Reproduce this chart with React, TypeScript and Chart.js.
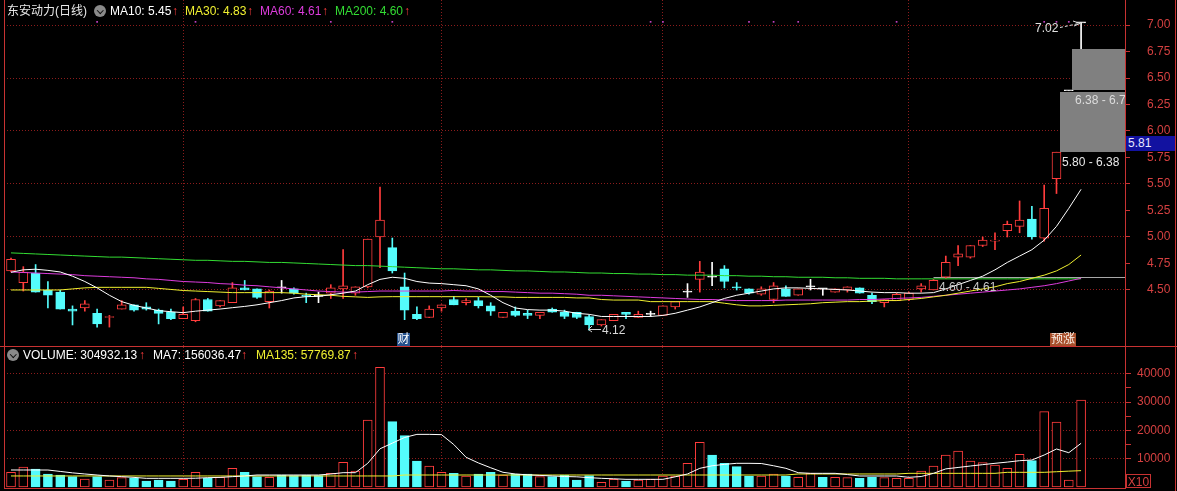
import React, { useEffect, useRef } from 'react';
import { Chart, registerables } from 'chart.js';
Chart.register(...registerables);

// ---------- DATA ----------
const opens = [
  4.68, 4.57, 4.66, 4.50, 4.48, 4.32, 4.33, 4.28, 4.24, 4.32,
  4.36, 4.34, 4.31, 4.29, 4.23, 4.21, 4.41, 4.35, 4.38, 4.52,
  4.51, 4.39, 4.52, 4.51, 4.45, 4.44, 4.47, 4.51, 4.47, 4.53,
  5.00, 4.90, 4.53, 4.27, 4.24, 4.33, 4.41, 4.38, 4.40, 4.35,
  4.24, 4.30, 4.28, 4.26, 4.32, 4.29, 4.29, 4.25, 4.17, 4.21,
  4.29, 4.24, 4.27, 4.26, 4.34, 4.48, 4.60, 4.62, 4.70, 4.53,
  4.51, 4.46, 4.41, 4.51, 4.45, 4.53, 4.51, 4.48, 4.50, 4.52,
  4.45, 4.38, 4.40, 4.41, 4.51, 4.50, 4.62, 4.81, 4.81, 4.92,
  4.96, 5.06, 5.10, 5.17, 4.99, 5.55, 6.38, 7.02,
];
const highs = [
  4.80, 4.72, 4.74, 4.58, 4.50, 4.35, 4.40, 4.32, 4.26, 4.40,
  4.36, 4.38, 4.32, 4.32, 4.34, 4.42, 4.42, 4.40, 4.57, 4.59,
  4.51, 4.50, 4.59, 4.52, 4.47, 4.48, 4.55, 4.88, 4.53, 4.98,
  5.47, 4.99, 4.66, 4.34, 4.35, 4.36, 4.44, 4.42, 4.43, 4.38,
  4.29, 4.34, 4.31, 4.29, 4.33, 4.31, 4.29, 4.26, 4.22, 4.27,
  4.29, 4.30, 4.30, 4.35, 4.39, 4.56, 4.77, 4.76, 4.73, 4.57,
  4.51, 4.53, 4.57, 4.54, 4.51, 4.60, 4.51, 4.51, 4.53, 4.52,
  4.47, 4.41, 4.47, 4.48, 4.56, 4.60, 4.82, 4.92, 4.92, 5.00,
  5.04, 5.15, 5.34, 5.29, 5.49, 5.80, 6.38, 7.02,
];
const lows = [
  4.67, 4.49, 4.48, 4.33, 4.32, 4.17, 4.30, 4.15, 4.15, 4.32,
  4.30, 4.31, 4.18, 4.22, 4.23, 4.20, 4.30, 4.34, 4.38, 4.50,
  4.42, 4.33, 4.47, 4.46, 4.38, 4.38, 4.42, 4.42, 4.45, 4.52,
  4.71, 4.66, 4.22, 4.22, 4.24, 4.30, 4.36, 4.36, 4.33, 4.26,
  4.24, 4.25, 4.23, 4.23, 4.29, 4.23, 4.23, 4.12, 4.16, 4.21,
  4.23, 4.24, 4.25, 4.26, 4.32, 4.43, 4.48, 4.54, 4.52, 4.50,
  4.46, 4.45, 4.38, 4.44, 4.45, 4.50, 4.45, 4.48, 4.48, 4.47,
  4.37, 4.34, 4.40, 4.40, 4.48, 4.50, 4.61, 4.73, 4.80, 4.91,
  4.88, 5.00, 5.04, 4.98, 4.96, 5.41, 6.38, 6.60,
];
const closes = [
  4.79, 4.67, 4.48, 4.45, 4.32, 4.30, 4.37, 4.18, 4.25, 4.36,
  4.31, 4.32, 4.28, 4.23, 4.27, 4.41, 4.30, 4.40, 4.52, 4.50,
  4.43, 4.49, 4.52, 4.47, 4.44, 4.44, 4.52, 4.54, 4.53, 4.98,
  5.16, 4.68, 4.31, 4.23, 4.32, 4.36, 4.36, 4.40, 4.35, 4.30,
  4.29, 4.26, 4.26, 4.29, 4.29, 4.25, 4.24, 4.17, 4.22, 4.27,
  4.27, 4.27, 4.27, 4.35, 4.39, 4.48, 4.67, 4.62, 4.58, 4.52,
  4.47, 4.51, 4.54, 4.44, 4.51, 4.53, 4.51, 4.51, 4.53, 4.47,
  4.39, 4.41, 4.46, 4.47, 4.54, 4.59, 4.76, 4.84, 4.92, 4.97,
  4.97, 5.12, 5.16, 5.00, 5.27, 5.80, 6.38, 7.02,
];
const ma10 = [
  4.667, 4.69, 4.696, 4.685, 4.67, 4.63, 4.58, 4.52, 4.45, 4.39,
  4.355, 4.33, 4.305, 4.295, 4.286, 4.30, 4.31, 4.32, 4.333, 4.345,
  4.36, 4.38, 4.40, 4.425, 4.437, 4.44, 4.455, 4.47, 4.49, 4.55,
  4.60, 4.62, 4.61, 4.58, 4.565, 4.56, 4.55, 4.54, 4.51, 4.45,
  4.38, 4.33, 4.315, 4.31, 4.31, 4.30, 4.28, 4.27, 4.25, 4.25,
  4.25, 4.25, 4.25, 4.26, 4.28, 4.31, 4.34, 4.38, 4.42, 4.45,
  4.47, 4.49, 4.51, 4.52, 4.52, 4.515, 4.51, 4.505, 4.50, 4.49,
  4.48, 4.475, 4.475, 4.47, 4.47, 4.475, 4.51, 4.55, 4.59, 4.63,
  4.69, 4.76, 4.82, 4.88, 4.97, 5.10, 5.27, 5.45,
];
const ma30 = [
  4.50, 4.50, 4.50, 4.50, 4.50, 4.51, 4.52, 4.525, 4.525, 4.525,
  4.525, 4.525, 4.515, 4.505, 4.495, 4.49, 4.485, 4.48, 4.475, 4.475,
  4.475, 4.475, 4.475, 4.47, 4.46, 4.455, 4.45, 4.44, 4.435, 4.43,
  4.435, 4.437, 4.437, 4.437, 4.437, 4.437, 4.437, 4.437, 4.437, 4.435,
  4.435, 4.43, 4.43, 4.43, 4.43, 4.43, 4.425, 4.425, 4.41, 4.405,
  4.405, 4.405, 4.39, 4.39, 4.39, 4.39, 4.39, 4.39, 4.375, 4.36,
  4.35, 4.35, 4.355, 4.36, 4.365, 4.37, 4.38, 4.385, 4.39, 4.39,
  4.395, 4.40, 4.40, 4.41, 4.42, 4.435, 4.45, 4.47, 4.49, 4.51,
  4.53, 4.56, 4.58, 4.61, 4.64, 4.68, 4.74, 4.83,
];
const ma60 = [
  4.67, 4.665, 4.66, 4.655, 4.65, 4.645, 4.635, 4.63, 4.625, 4.62,
  4.615, 4.605, 4.60, 4.59, 4.58, 4.575, 4.57, 4.56, 4.555, 4.545,
  4.54, 4.53, 4.52, 4.51, 4.50, 4.49, 4.485, 4.48, 4.48, 4.485,
  4.49, 4.49, 4.49, 4.49, 4.49, 4.49, 4.495, 4.49, 4.49, 4.485,
  4.485, 4.48, 4.475, 4.47, 4.47, 4.465, 4.46, 4.45, 4.45, 4.445,
  4.44, 4.435, 4.43, 4.425, 4.42, 4.415, 4.41, 4.41, 4.405, 4.40,
  4.40, 4.40, 4.40, 4.405, 4.405, 4.405, 4.405, 4.405, 4.405, 4.41,
  4.41, 4.415, 4.42, 4.425, 4.43, 4.44, 4.45, 4.46, 4.47, 4.48,
  4.49, 4.50, 4.51, 4.525, 4.54, 4.56, 4.585, 4.61,
];
const ma200 = [
  4.85, 4.845, 4.84, 4.835, 4.83, 4.825, 4.82, 4.815, 4.81, 4.81,
  4.805, 4.80, 4.795, 4.79, 4.785, 4.78, 4.78, 4.775, 4.77, 4.77,
  4.765, 4.76, 4.76, 4.755, 4.75, 4.745, 4.74, 4.735, 4.73, 4.73,
  4.725, 4.72, 4.715, 4.71, 4.705, 4.70, 4.70, 4.695, 4.69, 4.69,
  4.685, 4.68, 4.68, 4.675, 4.67, 4.67, 4.665, 4.66, 4.66, 4.655,
  4.655, 4.65, 4.65, 4.645, 4.645, 4.64, 4.64, 4.64, 4.635, 4.635,
  4.63, 4.63, 4.625, 4.625, 4.62, 4.62, 4.62, 4.615, 4.615, 4.61,
  4.61, 4.61, 4.605, 4.605, 4.605, 4.605, 4.605, 4.605, 4.605, 4.605,
  4.605, 4.605, 4.605, 4.605, 4.605, 4.605, 4.605, 4.605,
];
// volume in the axis unit (the axis is marked X10)
const volumes = [
  5190, 7070, 6360, 4590, 4240, 3650, 2830, 3650, 2470, 3300,
  3060, 2120, 2470, 2120, 2710, 5190, 3060, 3420, 6600, 5190,
  3650, 3420, 4240, 4000, 4240, 4000, 4830, 8720, 5650, 23680,
  42300, 23080, 18130, 9190, 7420, 5190, 4830, 3890, 4590, 5190,
  4240, 4590, 4590, 3650, 3650, 4240, 2470, 4000, 1650, 2710,
  2120, 2470, 2710, 3890, 3890, 8370, 15790, 11310, 8370, 7180,
  3890, 3890, 4590, 3890, 3420, 4830, 3420, 3420, 3300, 3060,
  3420, 3300, 3060, 3060, 5650, 7420, 11310, 12720, 9190, 8600,
  7770, 6600, 11550, 9300, 26610, 22970, 2470, 30750,
];
const volumeUp = [
  1, 1, 0, 0, 0, 0, 1, 0, 1, 1,
  0, 0, 0, 0, 1, 1, 0, 1, 1, 0,
  0, 1, 0, 0, 0, 0, 1, 1, 1, 1,
  1, 0, 0, 0, 1, 1, 0, 1, 0, 0,
  1, 0, 0, 1, 0, 0, 0, 0, 1, 1,
  0, 1, 1, 1, 1, 1, 1, 0, 0, 0,
  0, 1, 1, 0, 1, 1, 0, 1, 1, 0,
  0, 1, 1, 1, 1, 1, 1, 1, 1, 1,
  1, 1, 1, 0, 1, 1, 1, 1,
];
const volMa7 = [
  6010, 6010, 6010, 6000, 5500, 5000, 4600, 4240, 3900, 3650,
  3400, 3060, 3060, 3060, 3060, 3100, 3300, 3400, 3650, 3900,
  4240, 4240, 4240, 4240, 4240, 4240, 4590, 5060, 5060, 8370,
  13500, 15500, 17500, 18600, 18600, 18500, 15000, 10500, 8500, 6800,
  5200, 4600, 4300, 4100, 3900, 3700, 3600, 3300, 3060, 2900,
  2710, 2710, 2710, 2710, 3600, 4600, 6600, 7500, 8000, 8370,
  8370, 8300, 7500, 6600, 5060, 4830, 4830, 4830, 4400, 3890,
  3890, 3890, 3890, 3420, 3700, 4830, 6400, 6900, 7420, 7900,
  8370, 8800, 9300, 9540, 11310, 13430, 12120, 15440,
];
const volMa135 = [
  3900, 3900, 3900, 3900, 3900, 3900, 3900, 3900, 3900, 3900,
  3900, 3900, 3900, 3900, 3900, 3900, 3900, 3900, 3900, 3900,
  3900, 3900, 3900, 3900, 3900, 3900, 3900, 3900, 3900, 3900,
  3900, 3900, 4240, 4240, 4240, 4240, 4240, 4240, 4240, 4240,
  4240, 4240, 4240, 4240, 4240, 4240, 4240, 4240, 4240, 4240,
  4240, 4240, 4240, 4240, 4240, 4240, 4240, 4240, 4240, 4240,
  4240, 4240, 4240, 4240, 4600, 4600, 4600, 4600, 4600, 4600,
  4600, 4600, 4600, 4830, 4830, 4830, 4830, 4830, 4830, 4830,
  4830, 5190, 5190, 5190, 5190, 5400, 5600, 5777,
];
const priceTicks = [4.5, 4.75, 5.0, 5.25, 5.5, 5.75, 6.0, 6.25, 6.5, 6.75, 7.0];
const volumeTicks = [10000, 15000, 20000, 25000, 30000, 35000, 40000];
const monthStarts = [14, 35, 53, 73];
const eventMarks = [7, 15, 26, 31, 52, 53, 60, 62, 64, 72, 84, 85, 86];
const forecastLow = [5.80, 6.38];
const forecastHigh = [6.38, 6.77];
const forecastFrom = [86, 87];
const refLevel = 4.625;
const refFrom = 75;

// ---------- STYLE ----------
const UP = '#ff3c3c';
const DOWN = '#54fcfc';
const DOJI = '#ffffff';
const AXIS = '#c83232';
const LABEL = '#d44040';
const GRID = '#8c1c1c';
const FONT = "'Liberation Sans', Arial, 'Noto Sans CJK SC', sans-serif";
const X_MIN = -0.57;
const X_MAX = 90.57;

const kindColor = (i: number) =>
  closes[i] > opens[i] ? UP : closes[i] < opens[i] ? DOWN : DOJI;

const noPad = (s: any) => {
  s.paddingTop = 0;
  s.paddingBottom = 0;
  s.paddingLeft = 0;
  s.paddingRight = 0;
};

const makeXScale = () => ({
  type: 'linear' as const,
  min: X_MIN,
  max: X_MAX,
  offset: false,
  afterFit: (s: any) => {
    s.height = 0;
    noPad(s);
  },
  ticks: { display: false },
  grid: { display: false, drawTicks: false },
  border: { display: false },
});

// month separators: dotted verticals at the first trading day of each month
const monthPlugin = {
  id: 'months',
  beforeDatasetsDraw(chart: any) {
    const { ctx, chartArea, scales } = chart;
    ctx.save();
    ctx.strokeStyle = GRID;
    ctx.lineWidth = 1;
    ctx.setLineDash([1, 2]);
    monthStarts.forEach((m) => {
      const x = Math.floor(scales.x.getPixelForValue(m)) + 0.5;
      ctx.beginPath();
      ctx.moveTo(x, chartArea.top);
      ctx.lineTo(x, chartArea.bottom);
      ctx.stroke();
    });
    ctx.restore();
  },
};

const forecastPlugin = {
  id: 'forecast',
  beforeDatasetsDraw(chart: any) {
    const { ctx, chartArea, scales } = chart;
    const y = Math.round(scales.y.getPixelForValue(refLevel)) + 0.5;
    const x0 = scales.x.getPixelForValue(refFrom);
    ctx.save();
    ctx.strokeStyle = '#a8a8a8';
    ctx.lineWidth = 1;
    ctx.beginPath();
    ctx.moveTo(x0, y);
    ctx.lineTo(chartArea.right, y);
    ctx.stroke();
    ctx.restore();
  },
  afterDatasetsDraw(chart: any) {
    const { ctx, chartArea, scales } = chart;
    ctx.save();
    ctx.fillStyle = '#808080';
    forecastLow.forEach((lo, k) => {
      const x0 = Math.round(scales.x.getPixelForValue(forecastFrom[k] - 0.72));
      const yt = Math.round(scales.y.getPixelForValue(forecastHigh[k]));
      const yb = Math.round(scales.y.getPixelForValue(lo));
      const top = k === 0 ? yt + 1 : yt;
      const bot = k === 1 ? yb - 1 : yb;
      ctx.fillRect(x0, top, chartArea.right - x0, bot - top);
    });
    ctx.restore();
  },
};

export default function App() {
  const priceRef = useRef<HTMLCanvasElement>(null);
  const volRef = useRef<HTMLCanvasElement>(null);

  useEffect(() => {
    const idx = opens.map((_, i) => i);
    const line = (vals: number[], color: string, order: number) => ({
      type: 'line' as const,
      data: vals.map((v, i) => ({ x: i, y: v })),
      borderColor: color,
      borderWidth: 1,
      pointRadius: 0,
      tension: 0,
      fill: false,
      order,
    });

    const priceChart = new Chart(priceRef.current!, {
      type: 'bar',
      data: {
        datasets: [
          {
            type: 'bar',
            data: idx.map((i) => ({ x: i, y: [lows[i], highs[i]] })) as any,
            backgroundColor: idx.map(kindColor),
            borderWidth: 0,
            barThickness: 1,
            grouped: false,
            order: 20,
          },
          {
            type: 'bar',
            data: idx.map((i) => ({
              x: i,
              y: [Math.min(opens[i], closes[i]), Math.max(opens[i], closes[i])],
            })) as any,
            backgroundColor: idx.map((i) => (closes[i] > opens[i] ? '#000000' : kindColor(i))),
            borderColor: idx.map(kindColor),
            borderWidth: 1,
            borderSkipped: false,
            barThickness: 9,
            minBarLength: 1,
            grouped: false,
            order: 19,
          },
          line(ma200, '#33dd33', 5) as any,
          line(ma60, '#dd3cdd', 4) as any,
          line(ma30, '#f0f030', 3) as any,
          line(ma10, '#ffffff', 2) as any,
          {
            type: 'scatter',
            data: eventMarks.map((i) => ({ x: i, y: 7.03 })),
            backgroundColor: '#c040c0',
            borderWidth: 0,
            pointStyle: 'rect',
            pointRadius: 1.2,
            order: 1,
          } as any,
        ],
      },
      options: {
        responsive: false,
        animation: false,
        events: [],
        layout: { autoPadding: false, padding: { left: 4, right: 0, top: 0, bottom: 0 } },
        plugins: { legend: { display: false }, tooltip: { enabled: false } },
        scales: {
          x: makeXScale() as any,
          y: {
            type: 'linear',
            position: 'right',
            min: 3.962,
            max: 7.236,
            afterBuildTicks: (s: any) => {
              s.ticks = priceTicks.map((v) => ({ value: v }));
            },
            afterFit: (s: any) => {
              s.width = 52;
              noPad(s);
            },
            ticks: {
              color: LABEL,
              font: { family: FONT, size: 12 },
              padding: 17,
              crossAlign: 'near',
              callback: (v: any) => Number(v).toFixed(2),
            },
            grid: {
              color: (c: any) => {
                const v = c.tick ? c.tick.value : 0;
                return Math.abs(v * 2 - Math.round(v * 2)) < 1e-6 ? GRID : 'rgba(0,0,0,0)';
              },
              tickColor: AXIS,
              tickLength: 5,
              lineWidth: 1,
            },
            border: { color: AXIS, width: 1, dash: [1, 2] },
          } as any,
        },
      },
      plugins: [monthPlugin, forecastPlugin],
    });

    const volChart = new Chart(volRef.current!, {
      type: 'bar',
      data: {
        datasets: [
          {
            type: 'bar',
            data: idx.map((i) => ({ x: i, y: volumes[i] })) as any,
            backgroundColor: idx.map((i) => (volumeUp[i] ? '#000000' : DOWN)),
            borderColor: idx.map((i) => (volumeUp[i] ? UP : DOWN)),
            borderWidth: 1,
            borderSkipped: false,
            barThickness: 9,
            grouped: false,
            order: 10,
          },
          line(volMa135, '#f0f030', 3) as any,
          line(volMa7, '#ffffff', 2) as any,
        ],
      },
      options: {
        responsive: false,
        animation: false,
        events: [],
        layout: { autoPadding: false, padding: { left: 4, right: 0, top: 0, bottom: 3 } },
        plugins: { legend: { display: false }, tooltip: { enabled: false } },
        scales: {
          x: makeXScale() as any,
          y: {
            type: 'linear',
            position: 'right',
            min: -353,
            max: 49470,
            afterBuildTicks: (s: any) => {
              s.ticks = volumeTicks.map((v) => ({ value: v }));
            },
            afterFit: (s: any) => {
              s.width = 52;
              noPad(s);
            },
            ticks: {
              color: LABEL,
              font: { family: FONT, size: 12 },
              padding: 6,
              crossAlign: 'near',
              callback: (v: any) => (Number(v) % 10000 === 0 ? String(v) : ''),
            },
            grid: {
              color: (c: any) => {
                const v = c.tick ? c.tick.value : 0;
                return v % 10000 === 0 ? GRID : 'rgba(0,0,0,0)';
              },
              tickColor: AXIS,
              tickLength: 6,
              lineWidth: 1,
            },
            border: { color: AXIS, width: 1, dash: [1, 2] },
          } as any,
        },
      },
      plugins: [monthPlugin],
    });

    return () => {
      priceChart.destroy();
      volChart.destroy();
    };
  }, []);

  const txt = (x: number, y: number, color: string, s: string, extra: any = {}) => (
    <div
      style={{
        position: 'absolute',
        left: x,
        top: y,
        color,
        fontSize: 12,
        lineHeight: '14px',
        whiteSpace: 'nowrap',
        ...extra,
      }}
    >
      {s}
    </div>
  );
  const icon = (x: number, y: number) => (
    <div
      style={{
        position: 'absolute',
        left: x,
        top: y,
        width: 12,
        height: 12,
        borderRadius: 6,
        background: '#8a8a8a',
      }}
    >
      <div
        style={{
          position: 'absolute',
          left: 3.5,
          top: 2.5,
          width: 3.5,
          height: 3.5,
          borderRight: '1.6px solid #101010',
          borderBottom: '1.6px solid #101010',
          transform: 'rotate(45deg)',
        }}
      />
    </div>
  );
  const rule = (x: number, y: number, w: number, h: number, c = AXIS) => (
    <div style={{ position: 'absolute', left: x, top: y, width: w, height: h, background: c }} />
  );

  return (
    <div
      style={{
        position: 'fixed',
        left: 0,
        top: 0,
        width: 1177,
        height: 491,
        background: '#000',
        overflow: 'hidden',
        fontFamily: FONT,
      }}
    >
      <canvas ref={priceRef} width={1177} height={347} style={{ position: 'absolute', left: 0, top: 0 }} />
      <canvas ref={volRef} width={1177} height={144} style={{ position: 'absolute', left: 0, top: 347 }} />

      {rule(4, 0, 1, 489)}
      {rule(0, 346, 1177, 1)}
      {rule(4, 488, 1121, 1)}
      {rule(1175, 0, 1, 491)}

      {/* price legend */}
      {txt(7, 4, '#e8e8e8', '东安动力(日线)')}
      {icon(94, 5)}
      {txt(110, 4, '#ffffff', 'MA10: 5.45')}
      {txt(172, 4, UP, '↑')}
      {txt(185, 4, '#f0f030', 'MA30: 4.83')}
      {txt(247, 4, UP, '↑')}
      {txt(260, 4, '#dd3cdd', 'MA60: 4.61')}
      {txt(322, 4, UP, '↑')}
      {txt(335, 4, '#33dd33', 'MA200: 4.60')}
      {txt(404, 4, UP, '↑')}

      {/* volume legend */}
      {icon(7, 349)}
      {txt(23, 348, '#ffffff', 'VOLUME: 304932.13')}
      {txt(139, 348, UP, '↑')}
      {txt(153, 348, '#ffffff', 'MA7: 156036.47')}
      {txt(241, 348, UP, '↑')}
      {txt(256, 348, '#f0f030', 'MA135: 57769.87')}
      {txt(352, 348, UP, '↑')}

      {/* annotations */}
      {txt(1035, 21, '#e0e0e0', '7.02')}
      <svg width={1177} height={491} style={{ position: 'absolute', left: 0, top: 0 }}>
        <line x1={1060} y1={27.5} x2={1079} y2={23.5} stroke="#e0e0e0" strokeWidth={1} strokeDasharray="3,2" />
        <polyline points="1073,21 1080,23.5 1074,26" fill="none" stroke="#e0e0e0" strokeWidth={1} />
        <polyline points="592,326 588.5,329.5 592,332" fill="none" stroke="#d0d0d0" strokeWidth={1} />
        <line x1={588.5} y1={329.5} x2={601} y2={329.5} stroke="#d0d0d0" strokeWidth={1} />
      </svg>
      {txt(602, 323, '#d8d8d8', '4.12')}
      {txt(939, 280, '#c8c8c8', '4.60 - 4.61')}
      <div style={{ position: 'absolute', left: 1074, top: 93, width: 51, height: 14, overflow: 'hidden' }}>
        {txt(1, 0, '#dcdcdc', '6.38 - 6.77')}
      </div>
      {txt(1062, 155, '#e8e8e8', '5.80 - 6.38')}
      <div
        style={{
          position: 'absolute',
          left: 397,
          top: 333,
          width: 13,
          height: 13,
          background: '#24508c',
          color: '#ffffff',
          fontSize: 12,
          lineHeight: '13px',
          textAlign: 'center',
        }}
      >
        财
      </div>
      <div
        style={{
          position: 'absolute',
          left: 1050,
          top: 333,
          width: 26,
          height: 13,
          background: '#a8502c',
          color: '#f8f0e8',
          fontSize: 12,
          lineHeight: '13px',
          textAlign: 'center',
        }}
      >
        预涨
      </div>
      <div
        style={{
          position: 'absolute',
          left: 1126,
          top: 136,
          width: 49,
          height: 15,
          background: '#1212a0',
          color: '#e8e8ff',
          fontSize: 12,
          lineHeight: '15px',
          paddingLeft: 2,
          boxSizing: 'border-box',
        }}
      >
        5.81
      </div>
      <div
        style={{
          position: 'absolute',
          left: 1126,
          top: 474,
          width: 25,
          height: 14,
          border: `1px solid ${AXIS}`,
          color: LABEL,
          fontSize: 12,
          lineHeight: '14px',
          textAlign: 'center',
          boxSizing: 'border-box',
        }}
      >
        X10
      </div>
    </div>
  );
}
